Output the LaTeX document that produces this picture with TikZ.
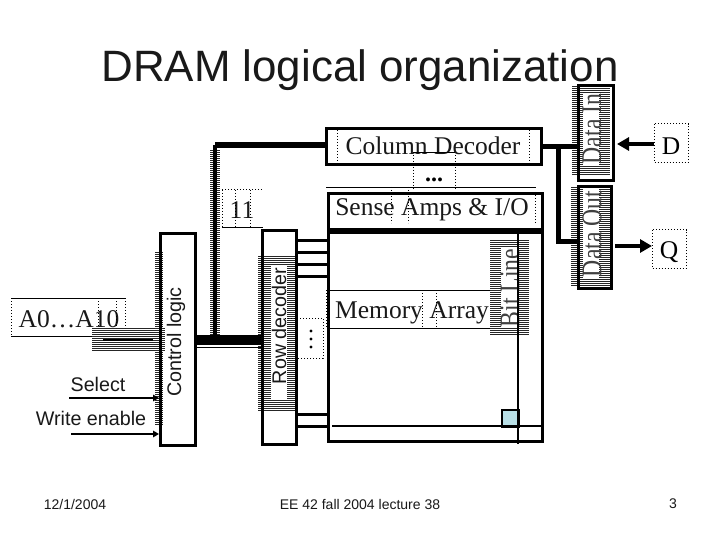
\documentclass[tikz,border=0pt]{standalone}
\usepackage{graphicx}
\usepackage{fontspec}
\setmainfont{Liberation Serif}
\setsansfont{Liberation Sans}
\usetikzlibrary{arrows.meta}
\newcommand{\fsz}[1]{\fontsize{#1}{#1}\selectfont}
\newcommand{\hatchbox}[4]{%
  \pgfmathsetmacro{\hnext}{#2+2}%
  \foreach \hy in {#2,\hnext,...,#4}{\draw[hatchline] (#1,\hy) -- (#3,\hy);}}
\newcommand{\tall}[1]{\scalebox{1}[1.2]{#1}}
\tikzset{
  hatchline/.style={line width=0.9pt,black!85},
  blockbox/.style={draw=black,line width=3pt,anchor=north west,inner sep=0pt,fill=none},
  serif/.style={font=\fsz{25.5},inner sep=0pt,text=black!90},
  sans/.style={font=\sffamily\fsz{19.7},inner sep=0pt,text=black!90},
  foot/.style={font=\sffamily\fsz{14},inner sep=0pt,text=black!90},
  ghost/.style={font=\fsz{23.7},inner sep=0pt,text=black!75,rotate=90},
  bus/.style={line width=5pt,black},
  wire/.style={line width=3pt,black},
  thin wire/.style={line width=1pt,black},
  dot wire/.style={line width=1pt,black,dotted,line cap=butt},
  arrow/.style={line width=4pt,black,-{Triangle[length=12pt,width=13pt]}},
  small arrow/.style={line width=1.8pt,black,-{Triangle[length=6pt,width=6.5pt]}},
  whitestrip/.style={fill=white,draw=none,anchor=north west,inner sep=0pt},
}
\begin{document}
\begin{tikzpicture}[x=1pt,y=-1pt]
\useasboundingbox (0,0) rectangle (720,540);
\fill[white] (0,0) rectangle (720,540);
% hatching behind labelled boxes
\hatchbox{155}{252}{163}{424}
\hatchbox{258}{256}{295}{410}
\hatchbox{490}{240}{529}{335}
\hatchbox{572}{86}{610}{174}
\hatchbox{571}{187}{610}{285}
\hatchbox{92}{328}{165}{351}
\hatchbox{210}{150}{220}{342}
% white strips carrying the rotated labels
\node[whitestrip,minimum width=16pt,minimum height=135pt] at (271,265) {};
\node[whitestrip,minimum width=17pt,minimum height=80pt] at (501,248) {};
\node[whitestrip,minimum width=16pt,minimum height=72pt] at (583,93) {};
\node[whitestrip,minimum width=16pt,minimum height=90pt] at (583,189) {};
% blocks
\node[blockbox,minimum width=35pt,minimum height=212pt] (ctrl) at (159,232) {};
\node[blockbox,minimum width=34pt,minimum height=214pt] (rowdec) at (261,229) {};
\node[blockbox,minimum width=215pt,minimum height=36pt] (coldec) at (325,127) {};
\node[blockbox,minimum width=214pt,minimum height=36pt] (sense) at (327,192) {};
\node[blockbox,minimum width=214pt,minimum height=212pt] (array) at (327,228) {};
\node[blockbox,minimum width=35pt,minimum height=95pt] (datain) at (577,84) {};
\node[blockbox,minimum width=33pt,minimum height=102pt] (dataout) at (577,185) {};
\draw[line width=5pt] (sense.south west) -- (sense.south east);
% memory cell
\node[draw=black,line width=1.6pt,anchor=north west,inner sep=0pt,minimum width=17pt,minimum height=17pt,fill={rgb,255:red,184;green,223;blue,230}] (cell) at (501,409) {};
% rotated labels under the bit line
\node[ghost] (bitlabel) at (510,288) {\tall{Bit Line}};
% word and bit lines
\coordinate (wordL) at (332,426);
\coordinate (bitT) at (518,230);
\coordinate (bitB) at (518,444);
\draw[wire,line width=2.2pt] (wordL) -- (array.east |- wordL);
\draw[wire,line width=2.4pt] (bitT) -- (bitB);
% row lines
\foreach \ry in {240,252,264,276,414,426}{
  \draw[wire] (rowdec.east |- 0,\ry) -- (array.west |- 0,\ry);
}
% address buses
\coordinate (busT) at (215,145);
\coordinate (busB) at (215,341);
\draw[line width=4pt] (busT) -- (busB);
\draw[bus,line width=6pt] (busT) -- (coldec.west |- busT);
\draw[line width=10pt] (ctrl.east |- 0,340) -- (rowdec.west |- 0,340);
\draw[thin wire] (ctrl.east |- 0,347) -- (rowdec.west |- 0,347);
\draw[wire,line width=2.5pt] (103,340) -- (153,340);
% data paths
\coordinate (branch) at (558,145);
\coordinate (branchB) at (558,241);
\draw[bus] (coldec.east) -- (datain.west |- coldec.east);
\draw[bus] (branch) -- (branchB) -- (dataout.west |- branchB);
% D and Q
\node[inner sep=0pt,minimum width=34pt,minimum height=38pt,anchor=north west] (dframe) at (654,124) {};
\node[inner sep=0pt,minimum width=34pt,minimum height=38pt,anchor=north west] (qframe) at (652,230) {};
\node[font=\fsz{25.5},inner sep=0pt] (dnode) at (671,146) {D};
\node[font=\fsz{25.5},inner sep=0pt] (qnode) at (669,252) {Q};
\draw[dot wire] (dframe.north west) rectangle (dframe.south east);
\draw[dot wire] (qframe.north west) rectangle (qframe.south east);
\coordinate (dtip) at (617,144);
\coordinate (qtail) at (615,246);
\draw[arrow] (dframe.west |- dtip) -- (dtip);
\draw[arrow] (qtail) -- (qframe.west |- qtail);
% column decoder details
\node[serif] (collabel) at (433,146) {Column Decoder};
\draw[dot wire] (337,130) -- (337,165);
\draw[dot wire] (529,130) -- (529,165);
\draw[thin wire] (413,153) -- (455,153);
\draw[dot wire] (413,155) -- (413,189);
\draw[dot wire] (455,155) -- (455,189);
\node[font=\fsz{24},inner sep=0pt] (dots) at (434,180) {\textbf{...}};
\draw[thin wire,line width=.8pt] (326,187) -- (536,187);
% sense amps details
\node[serif] (senselabel) at (432,210) {Sense Amps \& I/O};
\draw[dot wire] (391,187) -- (391,223);
\draw[dot wire] (408,187) -- (408,223);
\draw[dot wire] (535,192) -- (535,224);
% memory array label
\node[serif] (memlabel) at (412,313) {Memory Array};
\draw[thin wire] (327,290) -- (490,290);
\draw[thin wire] (327,328) -- (490,328);
\draw[dot wire] (422,290) -- (422,328);
\draw[dot wire] (436,290) -- (436,328);
\draw[dot wire] (326,290) -- (326,328);
% 11 label
\node[serif,anchor=center] (eleven) at (242,210) {11};
\draw[dot wire] (222,190) -- (263,190);
\draw[dot wire] (222,190) -- (222,228);
\draw[thin wire] (222,228) -- (263,228);
\draw[dot wire] (235,190) -- (235,228);
\draw[dot wire] (250,190) -- (250,228);
% A0...A10 label
\node[serif,anchor=center] (addr) at (69,319) {A0\ldots A10};
\draw[thin wire] (11,298) -- (125,298);
\draw[thin wire] (11,336) -- (92,336);
\draw[dot wire] (11,298) -- (11,336);
\draw[dot wire] (98,298) -- (98,328);
\draw[dot wire] (116,298) -- (116,328);
\draw[dot wire] (125,298) -- (125,328);
% rotated labels
\node[sans,rotate=90] (ctrllabel) at (176,342) {Control logic};
\node[sans,rotate=90] (rowlabel) at (279,326) {Row decoder};
\node[ghost] (inlabel) at (592,129) {\tall{Data In}};
\node[ghost] (outlabel) at (592,234) {\tall{Data Out}};
% row decoder dots frame
\draw[dot wire] (285,318) -- (323,318) -- (323,358) -- (285,358);
\foreach \dy in {331,339,347}{\fill (311,\dy) circle (1.7pt);}
% control inputs
\node[sans] (selectlabel) at (98,384) {Select};
\node[sans] (writelabel) at (91,418) {Write enable};
\coordinate (selS) at (69,398);
\coordinate (wrS) at (71,434);
\draw[small arrow] (selS) -- (ctrl.west |- selS);
\draw[small arrow] (wrS) -- (ctrl.west |- wrS);
% title and footer
\node[font=\sffamily\fsz{43.9},inner sep=0pt,text=black!90] (title) at (360,70) {DRAM logical organization};
\node[foot] (date) at (75,504) {12/1/2004};
\node[foot] (lecture) at (360,504) {EE 42 fall 2004 lecture 38};
\node[foot] (page) at (673,504) {3};
\end{tikzpicture}
\end{document}
